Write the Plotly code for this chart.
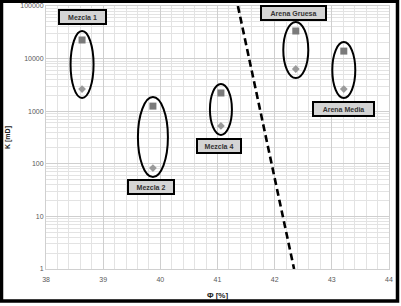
import plotly.graph_objects as go
import math

# ---- data ----
groups = ["Mezcla 1", "Mezcla 2", "Mezcla 4", "Arena Gruesa", "Arena Media"]
porosity = [38.63, 39.87, 41.06, 42.37, 43.21]
k_high = [22600, 1250, 2220, 33500, 13900]
k_low = [2640, 83, 525, 6340, 2640]
trend_x = [41.357, 42.34]
trend_y = [100000, 1]
x_ticks = [38, 39, 40, 41, 42, 43, 44]
y_ticks = [1, 10, 100, 1000, 10000, 100000]
y_tick_text = ["1", "10", "100", "1000", "10000", "100000"]

# ---- layout helpers (pixel-based placement) ----
W, H = 401, 306
L, R, T, B = 46, 12, 6, 37
pw, ph = W - L - R, H - T - B

def px_to_x(px):
    return 38 + (px - L) / pw * 6

def py_to_logy(py):
    return 5 - (py - T) / ph * 5

def paper_x(px):
    return (px - L) / pw

def paper_y(py):
    return (H - B - py) / ph

fig = go.Figure()

fig.add_trace(go.Scatter(x=trend_x, y=trend_y, mode="lines",
                         line=dict(color="black", width=2.6, dash="7px,4px"),
                         hoverinfo="skip", showlegend=False))
fig.add_trace(go.Scatter(x=porosity, y=k_high, mode="markers",
                         marker=dict(symbol="square", size=7, color="#7a7a7a"),
                         showlegend=False))
fig.add_trace(go.Scatter(x=porosity, y=k_low, mode="markers",
                         marker=dict(symbol="diamond", size=6, color="#9a9a9a"),
                         showlegend=False))

# ellipses around each pair
ell_half_w = [11.5, 15, 11, 12.5, 11.5]
pad = 10 ** (9 / (ph / 5))
shapes = []
for xv, hi, lo, hw in zip(porosity, k_high, k_low, ell_half_w):
    shapes.append(dict(type="circle", xref="x", yref="y", xsizemode="pixel",
                       xanchor=xv, x0=-hw, x1=hw, y0=lo / pad, y1=hi * pad,
                       line=dict(color="black", width=2)))

# outer frame
shapes.append(dict(type="rect", xref="paper", yref="paper",
                   x0=paper_x(1.5), x1=paper_x(397.5), y0=paper_y(301), y1=paper_y(1.2),
                   line=dict(color="black", width=3.5), layer="above"))

fig.update_layout(shapes=shapes)

# labels
label_px = [(82, 17), (151, 187), (219, 146), (294, 13), (344, 109)]
label_w = [40, 39, 37, 58, 54]
for name, (lx, ly), lw in zip(groups, label_px, label_w):
    fig.add_annotation(x=px_to_x(lx), y=py_to_logy(ly), xref="x", yref="y",
                       text="<b>" + name + "</b>", showarrow=False, width=lw,
                       font=dict(family="Liberation Sans", size=7, color="#333"),
                       bgcolor="#d4d4d4", bordercolor="black", borderwidth=2,
                       borderpad=2.5)

fig.update_layout(
    width=W, height=H,
    margin=dict(l=L, r=R, t=T, b=B, autoexpand=False),
    paper_bgcolor="white", plot_bgcolor="white",
    font=dict(family="Liberation Sans", size=7, color="#595959"),
    xaxis=dict(range=[37.999, 44.001], tickvals=x_ticks, ticks="", showgrid=True,
               automargin=False, ticklabelstandoff=4,
               tickfont=dict(color="#595959"),
               gridcolor="#cfcfcf", gridwidth=1,
               minor=dict(dtick=0.2, tick0=38, showgrid=True, gridcolor="#e3e3e3"),
               showline=True, linecolor="#d0d0d0", mirror=True, zeroline=False,
               title=dict(text="<b>Φ [%]</b>", font=dict(size=8, color="#222"),
                          standoff=9)),
    yaxis=dict(type="log", range=[-0.0005, 5.0005], tickvals=y_ticks, ticktext=y_tick_text,
               automargin=False, tickfont=dict(color="#595959"),
               ticks="", showgrid=True, gridcolor="#cfcfcf", gridwidth=1,
               minor=dict(dtick="D1", showgrid=True, gridcolor="#e3e3e3"),
               showline=True, linecolor="#d0d0d0", mirror=True, zeroline=False,
               title=dict(text="<b>K [mD]</b>", font=dict(size=7, color="#222"),
                          standoff=8)),
)

fig.write_html("out.html", config={"displayModeBar": False},
               post_script="document.body.style.margin='0';document.body.style.overflow='hidden';")
